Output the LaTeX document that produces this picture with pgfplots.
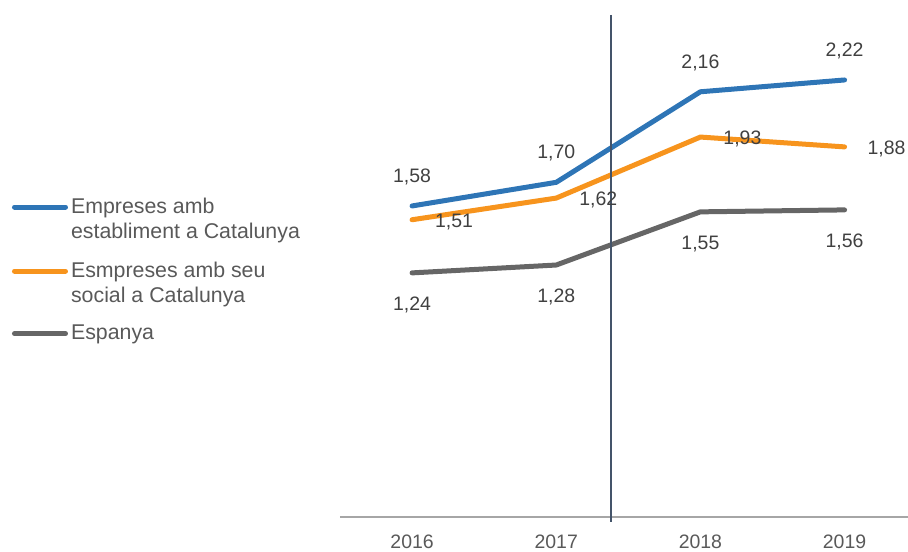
\documentclass[border=0pt]{standalone}
\usepackage{pgfplots}
\pgfplotsset{compat=1.18}
\usepackage{fontspec}
\setmainfont{Liberation Sans}
\definecolor{cblue}{HTML}{2E75B6}
\definecolor{corange}{HTML}{F7941D}
\definecolor{cgray}{HTML}{666666}
\definecolor{ctext}{HTML}{404040}
\definecolor{ctick}{HTML}{595959}
\definecolor{caxis}{HTML}{A6A6A6}
\definecolor{cvline}{HTML}{44546A}
\begin{document}
\begin{tikzpicture}
\path[use as bounding box] (0,0) rectangle (681pt,413.25pt);
\begin{axis}[
  at={(255pt,25.5pt)}, anchor=south west,
  scale only axis, width=426pt, height=376.5pt,
  xmin=-0.5, xmax=3.44, ymin=0, ymax=2.55,
  clip=false,
  axis y line=none,
  axis x line*=bottom,
  x axis line style={draw=caxis, line width=0.9pt},
  xtick={0,1,2,3}, xticklabels={2016,2017,2018,2019},
  major tick length=0pt,
  xticklabel style={font=\fontsize{14.6}{17}\selectfont, text=ctick, anchor=base, yshift=-23.5pt},
  legend style={at={(axis description cs:0,1)}, anchor=north west, xshift=-246pt, yshift=-136pt,
    draw=none, fill=none, inner sep=0pt, outer sep=0pt, row sep=33.4pt,
    font=\fontsize{16}{18.75}\selectfont, text=ctick,
    nodes={inner sep=0pt, outer sep=0pt}, column sep=2.3pt},
  legend cell align=left,
  legend image code/.code={\draw[#1, line cap=round] (0pt,-0.75pt) -- (38.25pt,-0.75pt);},
  every axis plot/.append style={line width=3.75pt, line cap=round, line join=round, mark=none},
  nodes near coords, point meta=explicit symbolic,
]
\addplot[cblue, every node near coord/.append style={font=\fontsize{14.6}{17}\selectfont, text=ctext, anchor=center, yshift=21.75pt}]
  coordinates {(0,1.58) [1,58] (1,1.70) [1,70] (2,2.16) [2,16] (3,2.22) [2,22]};
\addlegendentry{\begin{tabular}[t]{@{}l@{}}Empreses amb\\establiment a Catalunya\end{tabular}}
\addplot[corange, every node near coord/.append style={font=\fontsize{14.6}{17}\selectfont, text=ctext, anchor=center, xshift=31.5pt, yshift=-1.5pt}]
  coordinates {(0,1.51) [1,51] (1,1.62) [1,62] (2,1.93) [1,93] (3,1.88) [1,88]};
\addlegendentry{\begin{tabular}[t]{@{}l@{}}Esmpreses amb seu\\social a Catalunya\end{tabular}}
\addplot[cgray, every node near coord/.append style={font=\fontsize{14.6}{17}\selectfont, text=ctext, anchor=center, yshift=-24pt}]
  coordinates {(0,1.24) [1,24] (1,1.28) [1,28] (2,1.55) [1,55] (3,1.56) [1,56]};
\addlegendentry{Espanya}
\draw[cvline, line width=1.1pt] (axis cs:1.38,2.55) -- ([yshift=-4pt]axis cs:1.38,0);
\end{axis}
\end{tikzpicture}
\end{document}
